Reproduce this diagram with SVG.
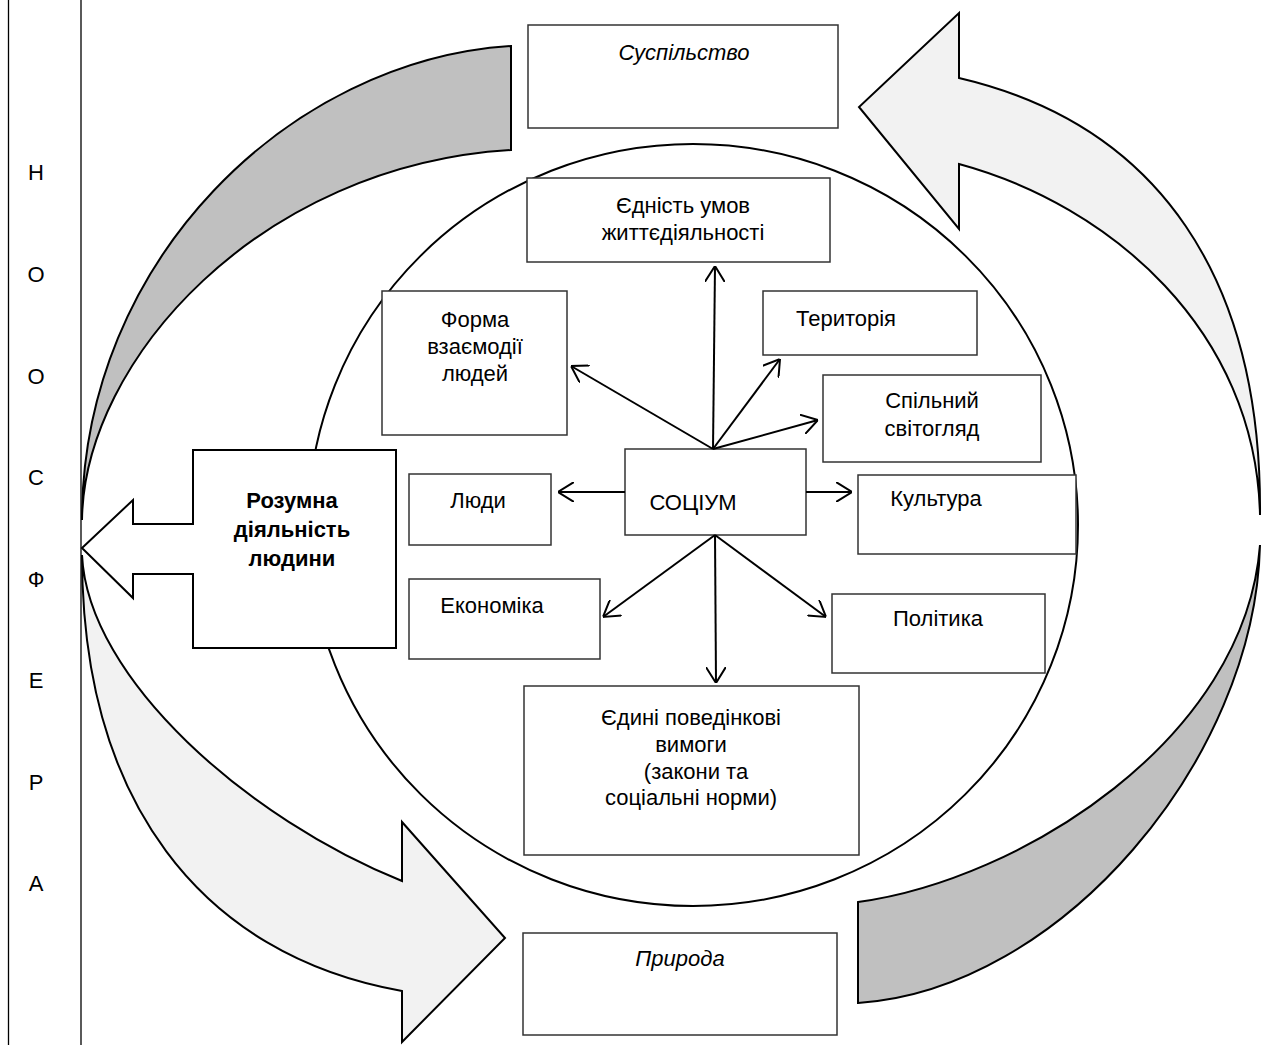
<svg xmlns="http://www.w3.org/2000/svg" width="1265" height="1045" viewBox="0 0 1265 1045">
<style>
.t{font-family:"Liberation Sans",Arial,sans-serif;font-size:22px;fill:#000;text-anchor:middle}
.i{font-style:italic}
.b{font-weight:bold}
.box{fill:#fff;stroke:#333;stroke-width:1.5}
.band{stroke:#000;stroke-width:2;stroke-linejoin:miter}
.dark{fill:#c0c0c0}
.light{fill:#f2f2f2}
.con line{stroke:#000;stroke-width:2;marker-end:url(#ah)}
</style>
<defs>
<marker id="ah" viewBox="0 0 16 20" refX="16" refY="10" markerWidth="16" markerHeight="20" markerUnits="userSpaceOnUse" orient="auto">
<path d="M0,0 L16,10 L0,20" fill="none" stroke="#000" stroke-width="2"/>
</marker>
</defs>
<rect width="1265" height="1045" fill="#fff"/>
<g id="border">
<line x1="8.5" y1="0" x2="8.5" y2="1045" stroke="#000" stroke-width="1.3"/>
<line x1="81" y1="0" x2="81" y2="1045" stroke="#000" stroke-width="1.3"/>
</g>
<g id="noosphere-label">
<text class="t" x="36" y="180">Н</text>
<text class="t" x="36" y="282">О</text>
<text class="t" x="36" y="384">О</text>
<text class="t" x="36" y="485">С</text>
<text class="t" x="36" y="587">Ф</text>
<text class="t" x="36" y="688">Е</text>
<text class="t" x="36" y="790">Р</text>
<text class="t" x="36" y="891">А</text>
</g>
<g id="arrow-top-left">
<path class="band dark" d="M511,46 C290,60 82,260 82,520 C84,360 260,165 511,150 Z"/>
</g>
<g id="arrow-bottom-left">
<path class="band light" d="M82,555 C82,800 200,955 402,991 L402,1042 L505,938 L402,822 L402,881 C250,820 88,680 82,555 Z"/>
</g>
<g id="arrow-top-right">
<path class="band light" d="M1260,515 C1262,280 1160,125 959,78 L959,13 L859,107 L959,229 L959,164 C1110,205 1256,330 1260,515 Z"/>
</g>
<g id="arrow-bottom-right">
<path class="band dark" d="M1260,545 C1255,760 1060,990 858,1003 L858,902 C1020,880 1245,740 1260,545 Z"/>
</g>
<g id="socium-circle">
<ellipse cx="693" cy="525" rx="385" ry="381" fill="none" stroke="#000" stroke-width="2"/>
</g>
<g id="node-suspilstvo">
<rect class="box" x="528" y="25" width="310" height="103"/>
<text class="t i" x="684" y="60">Суспільство</text>
</g>
<g id="node-yednist">
<rect class="box" x="527" y="178" width="303" height="84"/>
<text class="t" x="683" y="213">Єдність умов</text>
<text class="t" x="683" y="240">життєдіяльності</text>
</g>
<g id="node-terytoriia">
<rect class="box" x="763" y="291" width="214" height="64"/>
<text class="t" x="846" y="326">Територія</text>
</g>
<g id="node-forma">
<rect class="box" x="382" y="291" width="185" height="144"/>
<text class="t" x="475" y="327">Форма</text>
<text class="t" x="475" y="354">взаємодії</text>
<text class="t" x="475" y="381">людей</text>
</g>
<g id="node-svitohliad">
<rect class="box" x="823" y="375" width="218" height="87"/>
<text class="t" x="932" y="408">Спільний</text>
<text class="t" x="932" y="436">світогляд</text>
</g>
<g id="node-socium">
<rect class="box" x="625" y="449" width="181" height="86"/>
<text class="t" x="693" y="510">СОЦІУМ</text>
</g>
<g id="node-liudy">
<rect class="box" x="409" y="474" width="142" height="71"/>
<text class="t" x="478" y="508">Люди</text>
</g>
<g id="node-kultura">
<rect class="box" x="858" y="475" width="218" height="79"/>
<text class="t" x="936" y="506">Культура</text>
</g>
<g id="node-rozumna">
<path d="M193,450 L396,450 L396,648 L193,648 L193,574 L133,574 L133,598 L82,548 L133,500 L133,524 L193,524 Z" fill="#fff" stroke="#000" stroke-width="2"/>
<text class="t b" x="292" y="508">Розумна</text>
<text class="t b" x="292" y="537">діяльність</text>
<text class="t b" x="292" y="566">людини</text>
</g>
<g id="node-ekonomika">
<rect class="box" x="409" y="579" width="191" height="80"/>
<text class="t" x="492" y="613">Економіка</text>
</g>
<g id="node-polityka">
<rect class="box" x="832" y="594" width="213" height="79"/>
<text class="t" x="938" y="626">Політика</text>
</g>
<g id="node-vymohy">
<rect class="box" x="524" y="686" width="335" height="169"/>
<text class="t" x="691" y="725">Єдині поведінкові</text>
<text class="t" x="691" y="752">вимоги</text>
<text class="t" x="696" y="779">(закони та</text>
<text class="t" x="691" y="805">соціальні норми)</text>
</g>
<g id="node-pryroda">
<rect class="box" x="523" y="933" width="314" height="102"/>
<text class="t i" x="680" y="966">Природа</text>
</g>
<g id="connectors" class="con">
<line x1="713" y1="449" x2="715" y2="266"/>
<line x1="713" y1="449" x2="571" y2="366"/>
<line x1="713" y1="449" x2="780" y2="359"/>
<line x1="713" y1="449" x2="818" y2="420"/>
<line x1="625" y1="492" x2="558" y2="492"/>
<line x1="806" y1="492" x2="852" y2="492"/>
<line x1="715" y1="535" x2="603" y2="617"/>
<line x1="715" y1="535" x2="716" y2="683"/>
<line x1="715" y1="535" x2="826" y2="617"/>
</g>
</svg>
